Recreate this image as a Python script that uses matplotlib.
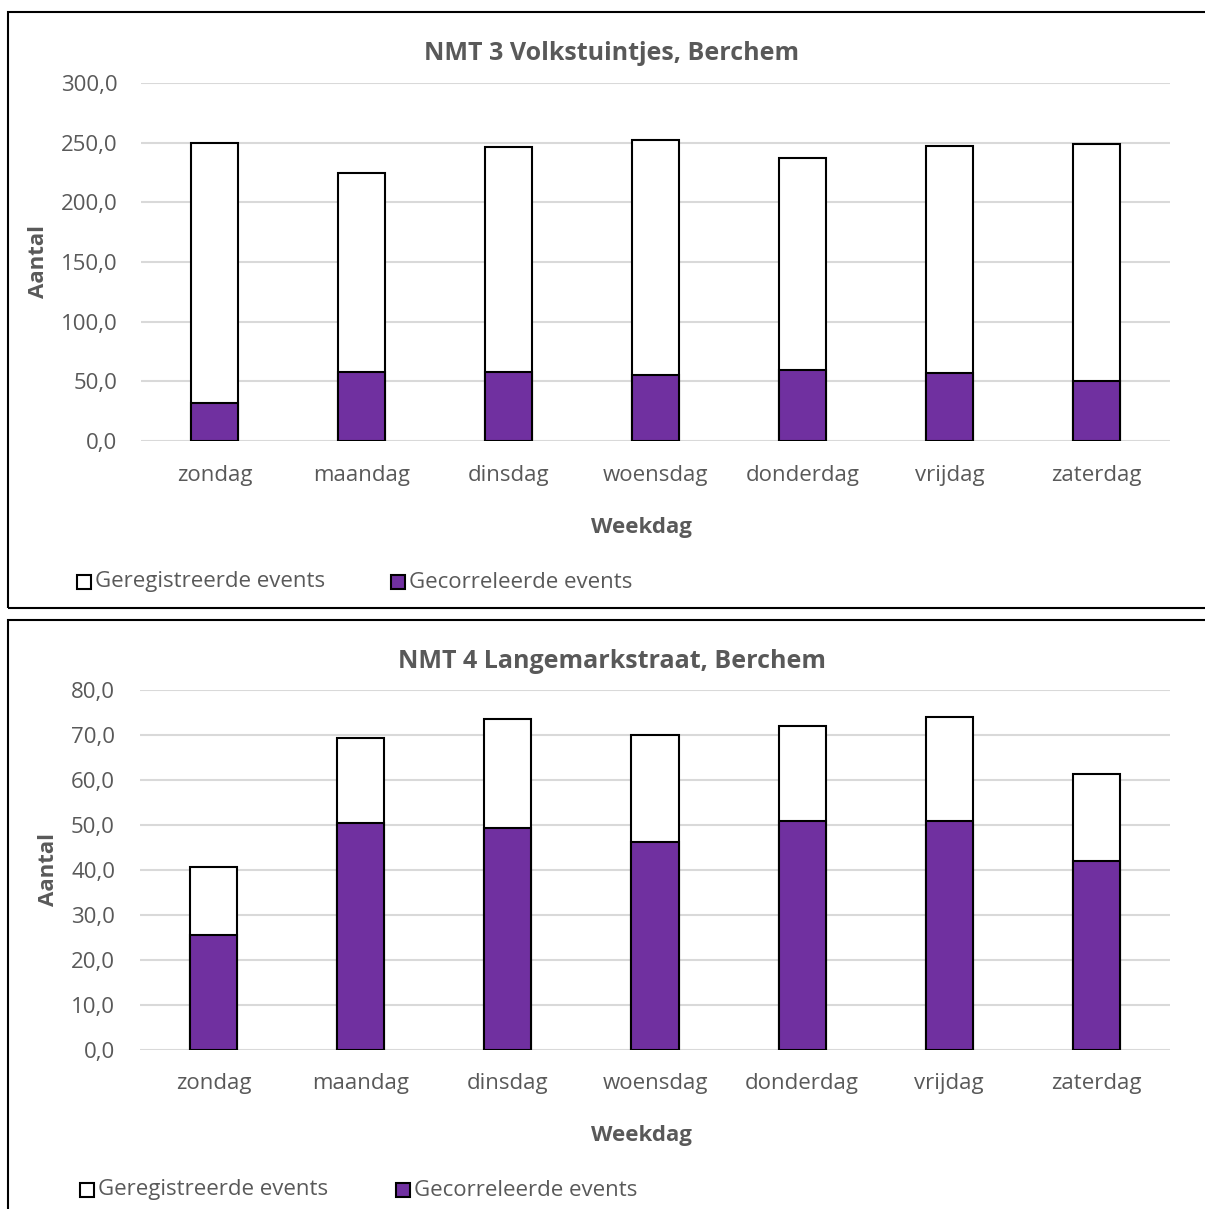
import matplotlib
matplotlib.use("Agg")
import matplotlib.pyplot as plt
import matplotlib.transforms as mtransforms
from matplotlib.patches import Rectangle
from matplotlib.ticker import FuncFormatter

days = ["zondag", "maandag", "dinsdag", "woensdag", "donderdag", "vrijdag", "zaterdag"]

nmt3_title = "NMT 3 Volkstuintjes, Berchem"
nmt3_registered = [249.7, 224.6, 246.4, 252.2, 237.2, 247.2, 248.9]
nmt3_correlated = [32.1, 57.8, 57.8, 55.3, 59.5, 57.0, 50.3]
nmt3_yticks = [0, 50, 100, 150, 200, 250, 300]

nmt4_title = "NMT 4 Langemarkstraat, Berchem"
nmt4_registered = [40.7, 69.3, 73.6, 70.0, 72.0, 74.0, 61.3]
nmt4_correlated = [25.6, 50.4, 49.3, 46.2, 50.9, 50.9, 42.0]
nmt4_yticks = [0, 10, 20, 30, 40, 50, 60, 70, 80]

series_labels = ["Geregistreerde events", "Gecorreleerde events"]
xlabel = "Weekdag"
ylabel = "Aantal"

W, H = 1205, 1209
PURPLE = "#7030A0"
GRID = "#D9D9D9"
TXT = "#595959"
FONT = "Open Sans"
FS = 16

plt.rcParams["font.family"] = [FONT, "DejaVu Sans"]

fig = plt.figure(figsize=(W / 100, H / 100), dpi=100)


def fx(px):
    return px / W


def fy(py):
    return 1 - py / H


def panel(top, bottom, ax_left, ax_right, ax_top, ax_bottom, title, reg, cor, yticks,
          title_y, tick_y, xlab_y, ylab_x, leg_y, leg_x1, leg_x2, ypad):
    fig.add_artist(Rectangle((fx(8), fy(bottom)), fx(1230) - fx(8), fy(top) - fy(bottom),
                             transform=fig.transFigure, fill=False, edgecolor="black",
                             linewidth=1.5, zorder=0))
    ax = fig.add_axes([fx(ax_left), fy(ax_bottom), fx(ax_right) - fx(ax_left),
                       fy(ax_top) - fy(ax_bottom)])
    x = list(range(len(days)))
    ax.bar(x, reg, width=0.32, color="white", edgecolor="black", linewidth=1.5, zorder=3)
    ax.bar(x, cor, width=0.32, color=PURPLE, edgecolor="black", linewidth=1.5, zorder=4)
    ax.set_xlim(-0.5, len(days) - 0.5)
    ax.set_ylim(yticks[0], yticks[-1])
    ax.set_yticks(yticks)
    ax.yaxis.set_major_formatter(FuncFormatter(lambda v, p: f"{v:.1f}".replace(".", ",")))
    ax.set_xticks(x)
    ax.set_xticklabels([])
    ax.grid(axis="y", color=GRID, linewidth=1.5, zorder=0)
    ax.set_axisbelow(True)
    for s in ax.spines.values():
        s.set_visible(False)
    ax.tick_params(axis="both", length=0, labelsize=FS, colors=TXT)
    ax.tick_params(axis="y", pad=ypad)
    tr = mtransforms.blended_transform_factory(ax.transData, fig.transFigure)
    for i, d in enumerate(days):
        ax.text(i, fy(tick_y), d, transform=tr, ha="center", va="center",
                fontsize=FS, color=TXT)
    fig.text(fx(612), fy(title_y), title, ha="center", va="center", fontsize=18,
             fontweight="bold", color=TXT)
    fig.text(fx(641), fy(xlab_y), xlabel, ha="center", va="center", fontsize=FS,
             fontweight="bold", color=TXT)
    fig.text(fx(ylab_x), fy((ax_top + ax_bottom) / 2), ylabel, ha="center", va="center",
             fontsize=FS, fontweight="bold", color=TXT, rotation=90)
    sq = 14
    fig.add_artist(Rectangle((fx(leg_x1), fy(leg_y + sq / 2)), fx(sq), sq / H,
                             transform=fig.transFigure, facecolor="white", edgecolor="black",
                             linewidth=1.5))
    fig.text(fx(leg_x1 + sq + 4), fy(leg_y), series_labels[0], ha="left", va="center",
             fontsize=FS, color=TXT)
    fig.add_artist(Rectangle((fx(leg_x2), fy(leg_y + sq / 2)), fx(sq), sq / H,
                             transform=fig.transFigure, facecolor=PURPLE, edgecolor="black",
                             linewidth=1.5))
    fig.text(fx(leg_x2 + sq + 4), fy(leg_y), series_labels[1], ha="left", va="center",
             fontsize=FS, color=TXT)
    return ax


panel(12, 608, 141, 1170, 83, 441, nmt3_title, nmt3_registered, nmt3_correlated, nmt3_yticks,
      title_y=54, tick_y=476, xlab_y=528, ylab_x=38, leg_y=582, leg_x1=77, leg_x2=391, ypad=17)
panel(620, 1230, 140, 1170, 690, 1050, nmt4_title, nmt4_registered, nmt4_correlated, nmt4_yticks,
      title_y=662, tick_y=1083, xlab_y=1136, ylab_x=48, leg_y=1190, leg_x1=80, leg_x2=396, ypad=18)

fig.savefig("out.png", dpi=100, facecolor="white")
